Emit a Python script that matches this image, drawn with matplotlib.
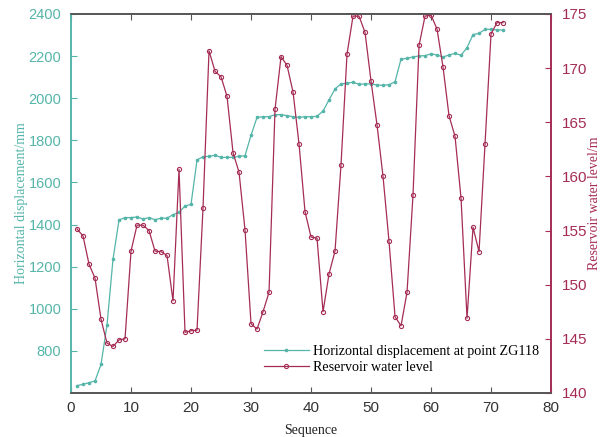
import matplotlib
matplotlib.use("Agg")
import matplotlib.pyplot as plt

sequence = list(range(1, 73))
displacement = [635, 641, 649, 657, 736, 923, 1236, 1422, 1433, 1433,
                1436, 1426, 1433, 1423, 1430, 1430, 1447, 1458, 1488, 1496,
                1707, 1722, 1724, 1729, 1719, 1719, 1719, 1724, 1727, 1824,
                1909, 1912, 1912, 1922, 1922, 1917, 1912, 1909, 1912, 1912,
                1914, 1939, 1992, 2044, 2068, 2071, 2076, 2066, 2068, 2068,
                2063, 2061, 2064, 2078, 2186, 2189, 2196, 2201, 2202, 2211,
                2205, 2196, 2205, 2213, 2204, 2240, 2302, 2308, 2327, 2327,
                2324, 2324]
water_level = [155.15, 154.5, 151.9, 150.6, 146.8, 144.6, 144.3, 144.9, 145.0, 153.1,
               155.5, 155.5, 155.0, 153.1, 153.05, 152.7, 148.5, 160.66, 145.6, 145.75,
               145.8, 157.1, 171.6, 169.7, 169.2, 167.4, 162.2, 160.4, 155.05, 146.4,
               145.9, 147.5, 149.3, 166.2, 171.06, 170.26, 167.8, 163.0, 156.75, 154.4,
               154.3, 147.5, 151.0, 153.1, 161.1, 171.3, 174.8, 174.8, 173.3, 168.8,
               164.75, 160.0, 154.0, 147.05, 146.2, 149.3, 158.3, 172.1, 174.8, 174.9,
               173.6, 170.1, 165.6, 163.7, 158.0, 146.9, 155.3, 153.05, 163.0, 173.15,
               174.2, 174.2]

teal = '#55b5a9'
crimson = '#a52d54'
gray = '#555555'
tick_font = 'Liberation Sans'
label_font = 'Liberation Serif'

fig = plt.figure(figsize=(6.08, 4.37), dpi=100)
ax = fig.add_axes([0.1168, 0.1007, 0.7895, 0.8673])
ax2 = ax.twinx()

l1, = ax.plot(sequence, displacement, color=teal, lw=0.9, marker='o', ms=1.6,
              mfc=teal, mec=teal, label='Horizontal displacement at point ZG118')
l2, = ax2.plot(sequence, water_level, color=crimson, lw=0.9, marker='o', ms=3.0,
               mfc='none', mec=crimson, mew=0.8, label='Reservoir water level')

ax.set_xlim(0, 80)
ax.set_ylim(600, 2400)
ax2.set_ylim(140, 175)
ax.set_xticks(range(0, 81, 10))
ax.set_yticks(range(800, 2401, 200))
ax2.set_yticks(range(140, 176, 5))

for a in (ax, ax2):
    a.spines['top'].set_color(gray)
    a.spines['bottom'].set_color(gray)
    a.spines['left'].set_color(teal)
    a.spines['right'].set_color(crimson)
    for s in a.spines.values():
        s.set_linewidth(1.2)

ax.tick_params(axis='x', direction='in', top=True, colors=gray, labelcolor='#333333',
               length=4, labelsize=11, pad=6)
ax.tick_params(axis='y', direction='in', colors=teal, labelcolor=teal, length=4,
               labelsize=10.5, pad=7)
ax2.tick_params(axis='y', direction='in', colors=crimson, labelcolor=crimson, length=4,
                labelsize=11, pad=8)
for lab in ax.get_xticklabels() + ax.get_yticklabels() + ax2.get_yticklabels():
    lab.set_fontfamily(tick_font)

ax.set_xlabel('Sequence', family=label_font, fontsize=10, color='#222222', labelpad=6)
ax.set_ylabel('Horizontal displacement/mm', family=label_font, fontsize=10, color=teal)
ax2.set_ylabel('Reservoir water level/m', family=label_font, fontsize=10, color=crimson)
ax.yaxis.set_label_coords(-0.089, 0.5)
ax2.yaxis.set_label_coords(1.078, 0.5)

leg = ax.legend(handles=[l1, l2], loc='lower left', bbox_to_anchor=(0.39, 0.035),
                frameon=False, prop={'family': label_font, 'size': 10.1},
                handlelength=3.2, handletextpad=0.3, labelspacing=0.25, borderaxespad=0)

fig.savefig('out.png', dpi=100)
